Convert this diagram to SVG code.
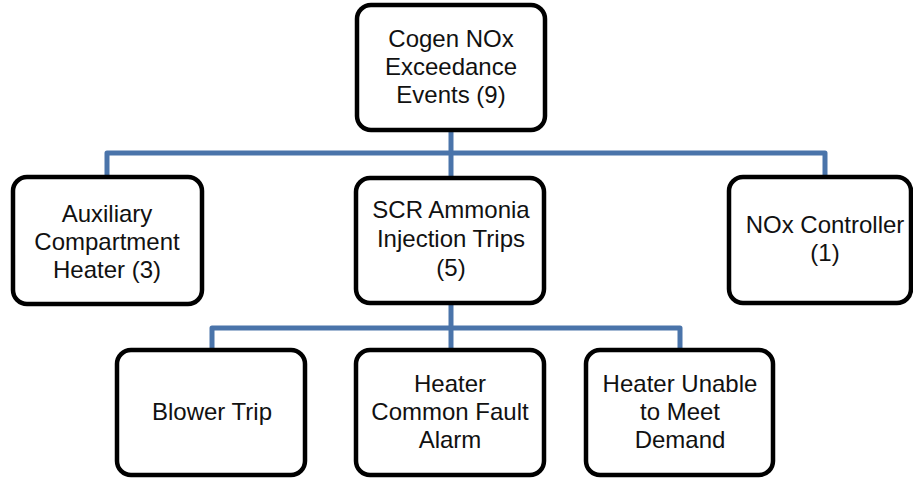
<svg xmlns="http://www.w3.org/2000/svg" width="913" height="478" viewBox="0 0 913 478">
<style>
.box{fill:#fff;stroke:#000;stroke-width:4.5}
.lbl{font-family:"Liberation Sans",Arial,sans-serif;font-size:24px;fill:#111;text-anchor:middle}
.con{fill:none;stroke:#4a74aa;stroke-width:5;stroke-linejoin:round}
</style>
<rect width="913" height="478" fill="#fff"/>
<g id="connectors">
<path class="con" d="M451 130 V178"/>
<path class="con" d="M107 177 V153 H825 V177"/>
<path class="con" d="M451 303 V350"/>
<path class="con" d="M212 350 V328 H680 V350"/>
</g>
<g id="n-root"><rect class="box" x="357" y="5" width="188" height="125" rx="14"/>
<text class="lbl" x="451" y="47">Cogen NOx</text><text class="lbl" x="451" y="75">Exceedance</text><text class="lbl" x="451" y="103">Events (9)</text></g>
<g id="n-aux"><rect class="box" x="13" y="177" width="189" height="127" rx="14"/>
<text class="lbl" x="107" y="222">Auxiliary</text><text class="lbl" x="107" y="250">Compartment</text><text class="lbl" x="107" y="278">Heater (3)</text></g>
<g id="n-scr"><rect class="box" x="356" y="178" width="188" height="125" rx="14"/>
<text class="lbl" x="451" y="218">SCR Ammonia</text><text class="lbl" x="451" y="247">Injection Trips</text><text class="lbl" x="451" y="276">(5)</text></g>
<g id="n-nox"><rect class="box" x="729" y="177" width="182" height="126" rx="14"/>
<text class="lbl" x="825" y="233">NOx Controller</text><text class="lbl" x="825" y="261">(1)</text></g>
<g id="n-blower"><rect class="box" x="117" y="350" width="188" height="125" rx="14"/>
<text class="lbl" x="212" y="420">Blower Trip</text></g>
<g id="n-fault"><rect class="box" x="356" y="350" width="188" height="125" rx="14"/>
<text class="lbl" x="450" y="392">Heater</text><text class="lbl" x="450" y="420">Common Fault</text><text class="lbl" x="450" y="448">Alarm</text></g>
<g id="n-demand"><rect class="box" x="586" y="350" width="187" height="125" rx="14"/>
<text class="lbl" x="680" y="392">Heater Unable</text><text class="lbl" x="680" y="420">to Meet</text><text class="lbl" x="680" y="448">Demand</text></g>
</svg>
